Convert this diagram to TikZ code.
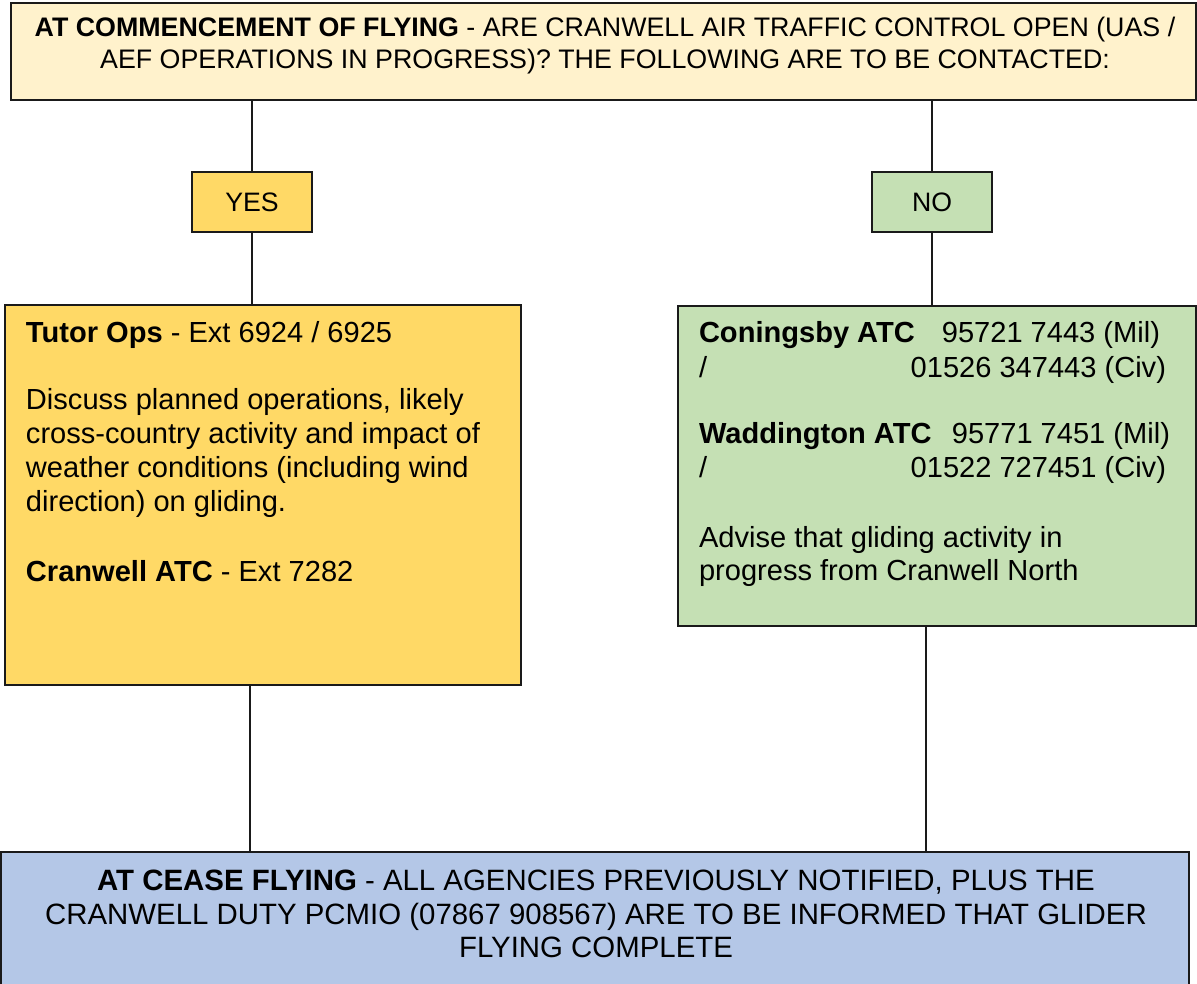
\documentclass[tikz,border=0pt]{standalone}
\usepackage{fontspec}
\setmainfont{Liberation Sans}
\definecolor{topfill}{HTML}{FFF2CC}
\definecolor{yesfill}{HTML}{FFD966}
\definecolor{nofill}{HTML}{C5E0B4}
\definecolor{endfill}{HTML}{B4C7E7}
\definecolor{edge}{HTML}{1A1A1A}
\begin{document}
\begin{tikzpicture}[x=0.75pt,y=-0.75pt,
  box/.style={draw=edge,line width=1.4pt,inner sep=0pt,outer sep=0pt},
  link/.style={draw=edge,line width=1.4pt},
  txt/.style={inner sep=0pt,outer sep=0pt,anchor=base west},
  topfont/.style={font=\fontsize{20.1}{24}\selectfont},
  bodyfont/.style={font=\fontsize{21.8}{25.5}\selectfont},
  endfont/.style={font=\fontsize{22.05}{25.5}\selectfont},
  ynfont/.style={font=\fontsize{20}{24}\selectfont}]
\useasboundingbox (0,0) rectangle (1197,984);
% boxes
\node[box,fill=topfill,minimum width=1185*0.75pt,minimum height=97*0.75pt,anchor=north west] (top) at (11,3) {};
\node[box,fill=yesfill,minimum width=120*0.75pt,minimum height=60*0.75pt] (yes) at (252,202) {};
\node[box,fill=nofill,minimum width=120*0.75pt,minimum height=60*0.75pt] (no) at (932,202) {};
\node[box,fill=yesfill,minimum width=516*0.75pt,minimum height=380*0.75pt,anchor=north west] (tutor) at (5,305) {};
\node[box,fill=nofill,minimum width=518*0.75pt,minimum height=320*0.75pt,anchor=north west] (green) at (678,306) {};
\node[box,fill=endfill,minimum width=1188*0.75pt,minimum height=150*0.75pt,anchor=north west] (end) at (1,852) {};
% connectors
\draw[link] (yes.north) -- (yes.north |- top.south);
\draw[link] (yes.south) -- (yes.south |- tutor.north);
\draw[link] (no.north) -- (no.north |- top.south);
\draw[link] (no.south) -- (no.south |- green.north);
\coordinate (lA) at (250,685);
\coordinate (rA) at (926,626);
\draw[link] (lA) -- (lA |- end.north);
\draw[link] (rA) -- (rA |- end.north);
% top text
\node[inner sep=0pt,anchor=base,topfont] (t1) at (605,37) {\textbf{AT COMMENCEMENT OF FLYING} - ARE CRANWELL AIR TRAFFIC CONTROL OPEN (UAS /};
\node[inner sep=0pt,anchor=base,topfont] (t2) at (605,69) {AEF OPERATIONS IN PROGRESS)? THE FOLLOWING ARE TO BE CONTACTED:};
% yes / no
\node[inner sep=0pt,ynfont] (yest) at (yes) {YES};
\node[inner sep=0pt,ynfont] (not) at (no) {NO};
% tutor text
\node[txt,bodyfont] (a1) at (26,343) {\textbf{Tutor Ops} - Ext 6924 / 6925};
\node[txt,bodyfont] (a2) at (26,410) {Discuss planned operations, likely};
\node[txt,bodyfont] (a3) at (26,444) {cross-country activity and impact of};
\node[txt,bodyfont] (a4) at (26,478) {weather conditions (including wind};
\node[txt,bodyfont] (a5) at (26,512) {direction) on gliding.};
\node[txt,bodyfont] (a6) at (26,581) {\textbf{Cranwell ATC} - Ext 7282};
% green text
\node[txt,bodyfont] (b1) at (699,343) {\textbf{Coningsby ATC}};
\node[txt,bodyfont,anchor=base east] (b1n) at (1160,343) {95721 7443 (Mil)};
\node[txt,bodyfont] (b2) at (699,378) {/};
\node[txt,bodyfont,anchor=base east] (b2n) at (1166,378) {01526 347443 (Civ)};
\node[txt,bodyfont] (b3) at (699,444) {\textbf{Waddington ATC}};
\node[txt,bodyfont,anchor=base east] (b3n) at (1170,444) {95771 7451 (Mil)};
\node[txt,bodyfont] (b4) at (699,478) {/};
\node[txt,bodyfont,anchor=base east] (b4n) at (1166,478) {01522 727451 (Civ)};
\node[txt,bodyfont] (b5) at (699,547) {Advise that gliding activity in};
\node[txt,bodyfont] (b6) at (699,580) {progress from Cranwell North};
% bottom text
\node[inner sep=0pt,anchor=base,endfont] (c1) at (596,890) {\textbf{AT CEASE FLYING} - ALL AGENCIES PREVIOUSLY NOTIFIED, PLUS THE};
\node[inner sep=0pt,anchor=base,endfont] (c2) at (596,924) {CRANWELL DUTY PCMIO (07867 908567) ARE TO BE INFORMED THAT GLIDER};
\node[inner sep=0pt,anchor=base,endfont] (c3) at (596,957) {FLYING COMPLETE};
\end{tikzpicture}
\end{document}
